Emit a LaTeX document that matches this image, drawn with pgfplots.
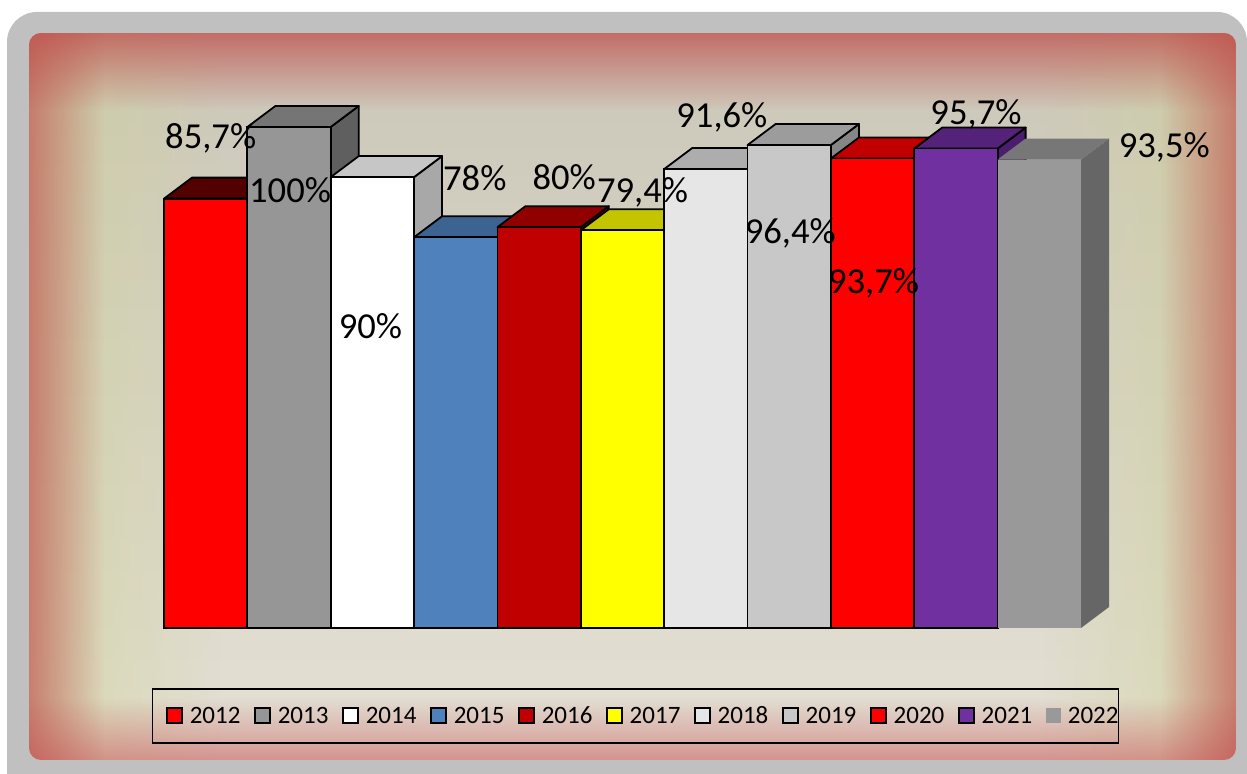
\documentclass[border=0pt]{standalone}
\usepackage{fontspec}
\setmainfont{Carlito}
\usepackage{pgfplots}
\usepackage{pgfplotstable}
\pgfplotsset{compat=1.18}
\usetikzlibrary{fadings}

\definecolor{frame}{HTML}{C0C0C0}
\definecolor{edgered}{HTML}{C0504D}
\definecolor{sidetint}{HTML}{D0D296}
\definecolor{bgtop}{HTML}{CBC7B8}
\definecolor{bgmid}{HTML}{D2D3AC}
\definecolor{bgbot}{HTML}{E4E0D4}
% front / top / side of each bar
\definecolor{c12f}{HTML}{FF0000}\definecolor{c12t}{HTML}{520000}\definecolor{c12s}{HTML}{800000}
\definecolor{c13f}{HTML}{969696}\definecolor{c13t}{HTML}{757575}\definecolor{c13s}{HTML}{5F5F5F}
\definecolor{c14f}{HTML}{FFFFFF}\definecolor{c14t}{HTML}{C6C6C6}\definecolor{c14s}{HTML}{A8A8A8}
\definecolor{c15f}{HTML}{4F81BD}\definecolor{c15t}{HTML}{3C6391}\definecolor{c15s}{HTML}{2F4F75}
\definecolor{c16f}{HTML}{C00000}\definecolor{c16t}{HTML}{900000}\definecolor{c16s}{HTML}{800000}
\definecolor{c17f}{HTML}{FFFF00}\definecolor{c17t}{HTML}{C4C400}\definecolor{c17s}{HTML}{A0A000}
\definecolor{c18f}{HTML}{E6E6E6}\definecolor{c18t}{HTML}{ADADAD}\definecolor{c18s}{HTML}{909090}
\definecolor{c19f}{HTML}{C8C8C8}\definecolor{c19t}{HTML}{9C9C9C}\definecolor{c19s}{HTML}{868686}
\definecolor{c20f}{HTML}{FF0000}\definecolor{c20t}{HTML}{C00000}\definecolor{c20s}{HTML}{A00000}
\definecolor{c21f}{HTML}{7030A0}\definecolor{c21t}{HTML}{542278}\definecolor{c21s}{HTML}{4A1D6E}
\definecolor{c22f}{HTML}{999999}\definecolor{c22t}{HTML}{777777}\definecolor{c22s}{HTML}{666666}

\tikzfading[name=fadeS, top color=transparent!0, bottom color=transparent!100]
\tikzfading[name=fadeN, top color=transparent!100, bottom color=transparent!0]
\tikzfading[name=fadeE, left color=transparent!0, right color=transparent!100]
\tikzfading[name=fadeW, left color=transparent!100, right color=transparent!0]

\pgfdeclareplotmark{empty}{}

% value, label offset (pt) from the top of the front face
\pgfplotstableread{
x  y    dx   dy
1  85.7 2.5  25.3
2  100  0.5  -38
3  90   -1   -80.5
4  78   9.5  23.6
5  80   12.5 18.6
6  79.4 10   13.6
7  91.6 8    20.6
8  96.4 0.5  -49
9  93.7 0.5  -67.7
10 95.7 10   11.8
11 93.5 62.5 0.8
}\ratedata

% marks are drawn after all bars, so the whole box (side, top, front) is drawn as the mark
\pgfplotsset{
  cube/.style n args={4}{
    ybar, bar width=1, bar shift=0pt,
    fill=#1, draw=#4, line width=0.9pt,
    legend image code/.code={%
      \path[fill=#1,draw=#4,line width=0.9pt] (0pt,0pt) rectangle (7.5pt,7.5pt);
      \path (-6.75pt,0pt) (11pt,0pt);},
    mark=empty, scatter,
    visualization depends on={\thisrow{y} \as \barh},
    scatter/@pre marker code/.code={%
      \path[fill=#3,draw=#4,line width=0.9pt,line join=round]
        (axis direction cs:0.5,0) -- ++(14pt,10.5pt) -- ++(axis direction cs:0,-\barh)
        -- ++(-14pt,-10.5pt) -- cycle;
      \path[fill=#2,draw=#4,line width=0.9pt,line join=round]
        (axis direction cs:-0.5,0) -- ++(axis direction cs:1,0) -- ++(14pt,10.5pt)
        -- ++(axis direction cs:-1,0) -- cycle;
      \path[fill=#1,draw=#4,line width=0.9pt,line join=round]
        (axis direction cs:-0.5,0) rectangle ++(axis direction cs:1,-\barh);},
    scatter/@post marker code/.code={},
  },
}

\begin{document}
\begin{tikzpicture}
\useasboundingbox (0,0) rectangle (623.5pt,387pt);
\fill[white] (0,0) rectangle (623.5pt,387pt);
\fill[frame,rounded corners=15pt] (3.5pt,-20pt) rectangle (623.5pt,381pt);
\begin{scope}
  \clip[rounded corners=6pt] (14.5pt,7pt) rectangle (618pt,370.5pt);
  \shade[top color=bgtop, middle color=bgmid, bottom color=bgbot] (14.5pt,7pt) rectangle (618pt,370.5pt);
  \fill[sidetint, path fading=fadeE, opacity=0.6] (14.5pt,7pt) rectangle (110pt,370.5pt);
  \fill[sidetint, path fading=fadeW, opacity=0.6] (522pt,7pt) rectangle (618pt,370.5pt);
  \fill[edgered, path fading=fadeS, opacity=0.75] (14.5pt,332pt) rectangle (618pt,370.5pt);
  \fill[edgered!80!white, path fading=fadeN, opacity=0.7] (14.5pt,7pt) rectangle (618pt,38pt);
  \fill[edgered, path fading=fadeE, opacity=0.65] (14.5pt,7pt) rectangle (52pt,370.5pt);
  \fill[edgered, path fading=fadeW, opacity=0.65] (580pt,7pt) rectangle (618pt,370.5pt);
\end{scope}

\begin{axis}[
  at={(82pt,73pt)}, anchor=south west,
  scale only axis, width=458.5pt, height=250.5pt,
  xmin=0.5, xmax=11.5, ymin=0, ymax=100,
  point meta min=0, point meta max=100,
  hide axis, clip=false,
  /pgf/number format/assume math mode=true,
  legend columns=11,
  legend cell align=left,
  legend style={at={(0.5142,-0.1756)}, anchor=center,
    draw=black, line width=0.8pt, fill=none,
    font=\fontsize{12.5}{15}\selectfont,
    inner xsep=0pt, inner ysep=8.5pt, column sep=0pt,
    nodes={inner xsep=0pt, inner ysep=0pt, anchor=base west}},
]
\addplot[cube={c12f}{c12t}{c12s}{black}, restrict x to domain=1:1] table[x=x,y=y]{\ratedata};
\addlegendentry{2012}
\addplot[cube={c13f}{c13t}{c13s}{black}, restrict x to domain=2:2] table[x=x,y=y]{\ratedata};
\addlegendentry{2013}
\addplot[cube={c14f}{c14t}{c14s}{black}, restrict x to domain=3:3] table[x=x,y=y]{\ratedata};
\addlegendentry{2014}
\addplot[cube={c15f}{c15t}{c15s}{black}, restrict x to domain=4:4] table[x=x,y=y]{\ratedata};
\addlegendentry{2015}
\addplot[cube={c16f}{c16t}{c16s}{black}, restrict x to domain=5:5] table[x=x,y=y]{\ratedata};
\addlegendentry{2016}
\addplot[cube={c17f}{c17t}{c17s}{black}, restrict x to domain=6:6] table[x=x,y=y]{\ratedata};
\addlegendentry{2017}
\addplot[cube={c18f}{c18t}{c18s}{black}, restrict x to domain=7:7] table[x=x,y=y]{\ratedata};
\addlegendentry{2018}
\addplot[cube={c19f}{c19t}{c19s}{black}, restrict x to domain=8:8] table[x=x,y=y]{\ratedata};
\addlegendentry{2019}
\addplot[cube={c20f}{c20t}{c20s}{black}, restrict x to domain=9:9] table[x=x,y=y]{\ratedata};
\addlegendentry{2020}
\addplot[cube={c21f}{c21t}{c21s}{black}, restrict x to domain=10:10] table[x=x,y=y]{\ratedata};
\addlegendentry{2021}
\addplot[cube={c22f}{c22t}{c22s}{none}, restrict x to domain=11:11] table[x=x,y=y]{\ratedata};
\addlegendentry{2022}
% value labels last, so that they sit above the bars
\addplot[forget plot, only marks, mark=empty, point meta=y,
  nodes near coords={\pgfmathprintnumber[use comma]{\pgfplotspointmeta}\%},
  visualization depends on={\thisrow{dx} \as \ldx},
  visualization depends on={\thisrow{dy} \as \ldy},
  every node near coord/.append style={anchor=base, xshift=\ldx*1pt, yshift=\ldy*1pt,
    font=\fontsize{18.3}{20}\selectfont, inner sep=0pt, text=black}]
  table[x=x,y=y]{\ratedata};
\end{axis}
\end{tikzpicture}
\end{document}
